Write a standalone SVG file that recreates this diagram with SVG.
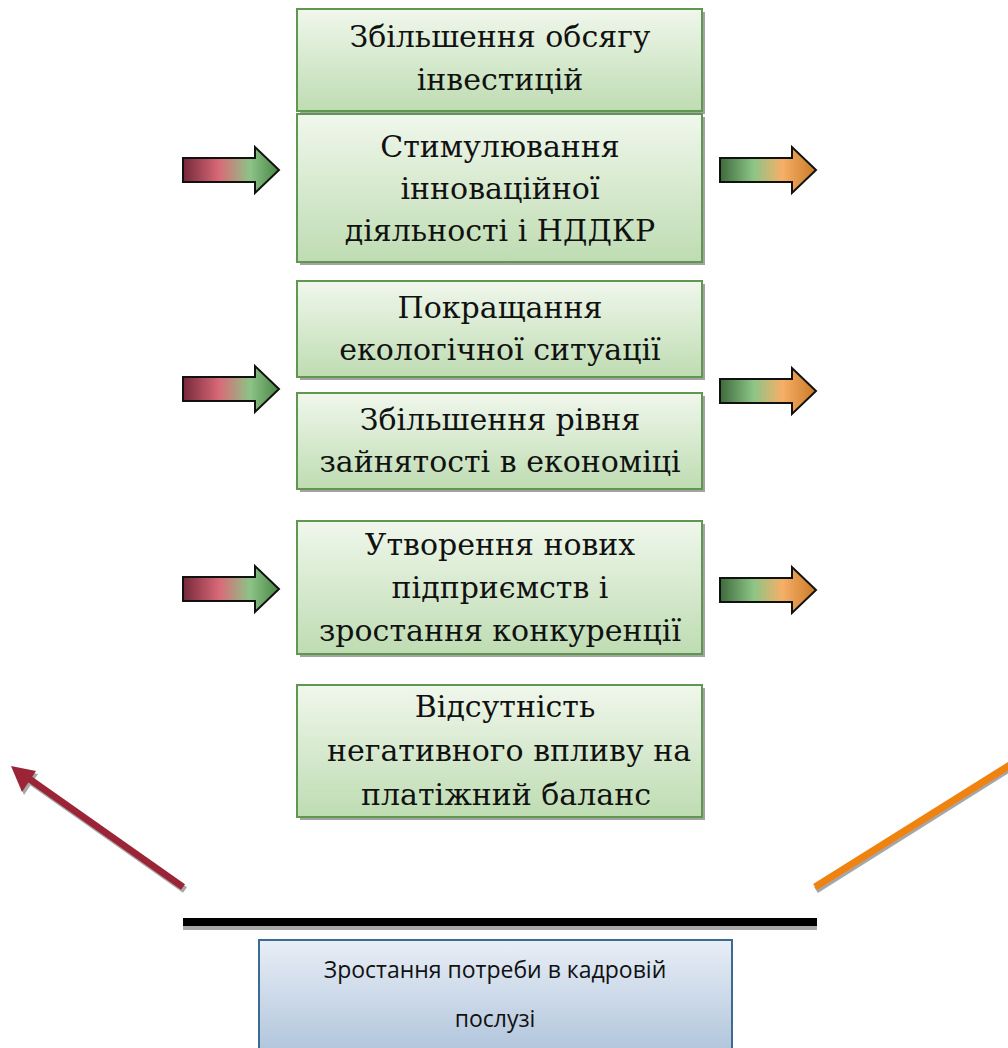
<svg xmlns="http://www.w3.org/2000/svg" width="1008" height="1048" viewBox="0 0 1008 1048">
  <defs>
    <linearGradient id="gBox" x1="0" y1="0" x2="0" y2="1">
      <stop offset="0" stop-color="#f0f7ec"/>
      <stop offset="1" stop-color="#bedcb2"/>
    </linearGradient>
    <linearGradient id="gBlue" x1="0" y1="0" x2="0" y2="1">
      <stop offset="0" stop-color="#e8eef6"/>
      <stop offset="1" stop-color="#adc2da"/>
    </linearGradient>
    <linearGradient id="gIn" x1="0" y1="0" x2="1" y2="0">
      <stop offset="0" stop-color="#76283a"/>
      <stop offset="0.38" stop-color="#d96a78"/>
      <stop offset="0.7" stop-color="#8cc487"/>
      <stop offset="1" stop-color="#4a8545"/>
    </linearGradient>
    <linearGradient id="gOut" x1="0" y1="0" x2="1" y2="0">
      <stop offset="0" stop-color="#3e6a3c"/>
      <stop offset="0.35" stop-color="#8cc586"/>
      <stop offset="0.65" stop-color="#f6af68"/>
      <stop offset="1" stop-color="#c97a25"/>
    </linearGradient>
    <path id="arrowShape" d="M0,-12 H72 V-23 L96,0 L72,23 V12 H0 Z"/>
  </defs>
  <style>
    .shadow { fill: #a3a3a3; }
    .box { fill: url(#gBox); stroke: #5f9750; stroke-width: 2; }
    .lbl { font-family: 'DejaVu Serif', 'Liberation Serif', serif; font-size: 30px; fill: #111; text-anchor: middle; }
    .sm { font-family: 'Open Sans', 'Liberation Sans', sans-serif; font-size: 23px; fill: #111; text-anchor: middle; }
    .ain { fill: url(#gIn); stroke: #111; stroke-width: 2; stroke-linejoin: miter; }
    .aout { fill: url(#gOut); stroke: #111; stroke-width: 2; stroke-linejoin: miter; }
  </style>

  <rect width="1008" height="1048" fill="#ffffff"/>

  <!-- factor boxes -->
  <g id="n1">
    <rect class="shadow" x="300" y="12" width="405" height="102"/>
    <rect class="box" x="297" y="9" width="405" height="102"/>
    <text class="lbl" x="500" y="47">Збільшення обсягу</text>
    <text class="lbl" x="500" y="90">інвестицій</text>
  </g>
  <g id="n2">
    <rect class="shadow" x="300" y="117" width="405" height="148"/>
    <rect class="box" x="297" y="114" width="405" height="148"/>
    <text class="lbl" x="500" y="157">Стимулювання</text>
    <text class="lbl" x="500" y="199">інноваційної</text>
    <text class="lbl" x="500" y="241">діяльності і НДДКР</text>
  </g>
  <g id="n3">
    <rect class="shadow" x="300" y="284" width="405" height="96"/>
    <rect class="box" x="297" y="281" width="405" height="96"/>
    <text class="lbl" x="500" y="318">Покращання</text>
    <text class="lbl" x="500" y="360">екологічної ситуації</text>
  </g>
  <g id="n4">
    <rect class="shadow" x="300" y="396" width="405" height="96"/>
    <rect class="box" x="297" y="393" width="405" height="96"/>
    <text class="lbl" x="500" y="430">Збільшення рівня</text>
    <text class="lbl" x="500" y="472">зайнятості в економіці</text>
  </g>
  <g id="n5">
    <rect class="shadow" x="300" y="524" width="405" height="133"/>
    <rect class="box" x="297" y="521" width="405" height="133"/>
    <text class="lbl" x="500" y="555">Утворення нових</text>
    <text class="lbl" x="500" y="598">підприємств і</text>
    <text class="lbl" x="500" y="641">зростання конкуренції</text>
  </g>
  <g id="n6">
    <rect class="shadow" x="300" y="688" width="405" height="132"/>
    <rect class="box" x="297" y="685" width="405" height="132"/>
    <text class="lbl" x="505" y="717">Відсутність</text>
    <text class="lbl" x="509" y="761">негативного впливу на</text>
    <text class="lbl" x="506" y="805">платіжний баланс</text>
  </g>

  <!-- demand box -->
  <g id="n7">
    <rect x="259" y="940" width="473" height="120" fill="url(#gBlue)" stroke="#3d6a92" stroke-width="2"/>
    <text class="sm" x="495" y="978">Зростання потреби в кадровій</text>
    <text class="sm" x="495" y="1027">послузі</text>
  </g>

  <!-- connectors -->
  <g id="connectors">
    <use href="#arrowShape" class="ain" transform="translate(183,170)"/>
    <use href="#arrowShape" class="ain" transform="translate(183,389)"/>
    <use href="#arrowShape" class="ain" transform="translate(183,589)"/>
    <use href="#arrowShape" class="aout" transform="translate(720,170)"/>
    <use href="#arrowShape" class="aout" transform="translate(720,391)"/>
    <use href="#arrowShape" class="aout" transform="translate(720,590)"/>

    <!-- base line -->
    <rect x="183" y="921" width="634" height="9" fill="#a8a8a8"/>
    <rect x="183" y="918" width="634" height="8" fill="#000"/>

    <!-- red diagonal arrow with shadow -->
    <g transform="translate(2,3)" fill="#a6a6a6" stroke="#a6a6a6">
      <line x1="183" y1="887" x2="28" y2="778" stroke-width="7"/>
      <polygon points="11,766 36,771 22,792" stroke="none"/>
    </g>
    <line x1="183" y1="887" x2="28" y2="778" stroke="#9b2437" stroke-width="7"/>
    <polygon points="11,766 36,771 22,792" fill="#9b2437"/>

    <!-- orange diagonal line with shadow -->
    <line x1="816" y1="890" x2="1010" y2="768" stroke="#a6a6a6" stroke-width="7"/>
    <line x1="815" y1="887" x2="1010" y2="765" stroke="#f0820f" stroke-width="7"/>
  </g>
</svg>
